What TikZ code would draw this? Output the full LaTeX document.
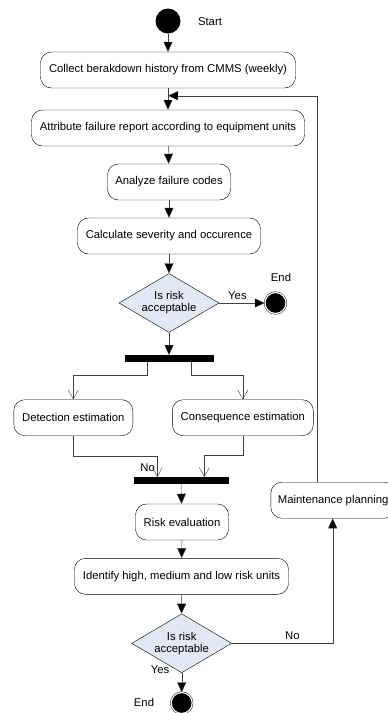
\documentclass[tikz,border=0pt]{standalone}
\usepackage{fontspec}
\setmainfont{Liberation Sans}
\usetikzlibrary{shapes.geometric,arrows.meta,positioning}
\definecolor{decfill}{HTML}{E2E8F4}
\definecolor{linegray}{HTML}{404040}

\begin{document}
\begin{tikzpicture}
            [x=1pt,y=-1pt,font=\fontsize{11.3}{12}\selectfont,
             act/.style ={draw,rounded corners=11pt,minimum height=36pt,inner xsep=6pt},
             dec/.style ={draw,diamond,aspect=1.7,fill=decfill,minimum width=100pt,minimum height=59pt,inner sep=0pt,align=center},
             bar/.style ={fill=black,minimum height=7pt,inner sep=0pt},
             arr/.style ={draw=linegray,-{Triangle[length=10pt,width=9pt,fill=black]}},
             vopen/.style ={draw=linegray,-{Straight Barb[length=9pt,width=10pt]}},
             endst/.style ={draw,circle,double,double distance=1.2pt,fill=black,minimum size=21pt,inner sep=0pt}]
            \useasboundingbox (0,0) rectangle (388,713);
            \node[circle,fill=black,minimum size=25pt,inner sep=0pt] (start) at (168,21){};
            \node (startl) at (210,22){Start};
            \node[act,minimum width=255pt] (collect) at (168,70){Collect berakdown history from CMMS (weekly)};
            \node[act,minimum width=273pt] (attrib) at (168,128){Attribute failure report according to equipment units};
            \node[act,minimum width=123pt] (codes) at (169,182){Analyze failure codes};
            \node[act,minimum width=183pt] (calc) at (169,236){Calculate severity and occurence};
            \node[dec] (risk1) at (169,303){Is risk\\acceptable};
            \node[endst] (end1) at (275.5,303){};
            \node (end1l) at (281,277){End};
            \node[bar,minimum width=89pt] (fork) at (169,358.7){};
            \node[act,minimum width=119pt] (detect) at (73.3,417.7){Detection estimation};
            \node[act,minimum width=141pt] (conseq) at (242.8,417.7){Consequence estimation};
            \node[bar,minimum width=95pt] (join) at (181,480.7){};
            \node[act,minimum width=93pt] (eval) at (182,522){Risk evaluation};
            \node[act,minimum width=214pt] (ident) at (181.5,576.3){Identify high, medium and low risk units};
            \node[dec] (risk2) at (181.7,643.3){Is risk\\acceptable};
            \node[endst] (end2) at (181.7,703){};
            \node (end2l) at (144,702){End};
            \node[act,anchor=west,inner xsep=7pt] (maint) at (270.7,500.2){Maintenance planning};
            \coordinate (loopin) at (168,95.7);
            \draw[arr] (start) to (collect);
            \draw[arr] (collect) to (attrib);
            \draw[arr] (attrib) to (codes);
            \draw[arr] (codes) to (calc);
            \draw[arr] (calc) to (risk1);
            \draw[arr] (risk1) to node[above,pos=0.4]{Yes} (end1);
            \draw[arr] (risk1) to (fork);
            \draw[vopen] ([xshift=-22.3pt]fork.south) -- ++(0,13) -| (detect.north);
            \draw[vopen] ([xshift=22pt]fork.south) -- ++(0,13) -| (conseq.north);
            \draw[vopen] (detect.south) -- ++(0,20.7) -| ([xshift=-23.7pt]join.north);
            \draw[vopen] (conseq.south) -- ++(0,19.7) -| ([xshift=23.3pt]join.north);
            \node (nol) at (147.7,467.5){No};
            \draw[arr] (join) to (eval);
            \draw[arr] (eval) to (ident);
            \draw[arr] (ident) to (risk2);
            \draw[arr] (risk2) to (end2);
            \node (yesl) at (160,669.5){Yes};
            \coordinate (mbot) at (332.7,518.3);
            \draw[arr] (risk2.east) -| node[above,pos=0.3]{No} (mbot);
            \draw[arr] ([xshift=46pt]maint.north west) |- (loopin);
        \end{tikzpicture}
\end{document}
